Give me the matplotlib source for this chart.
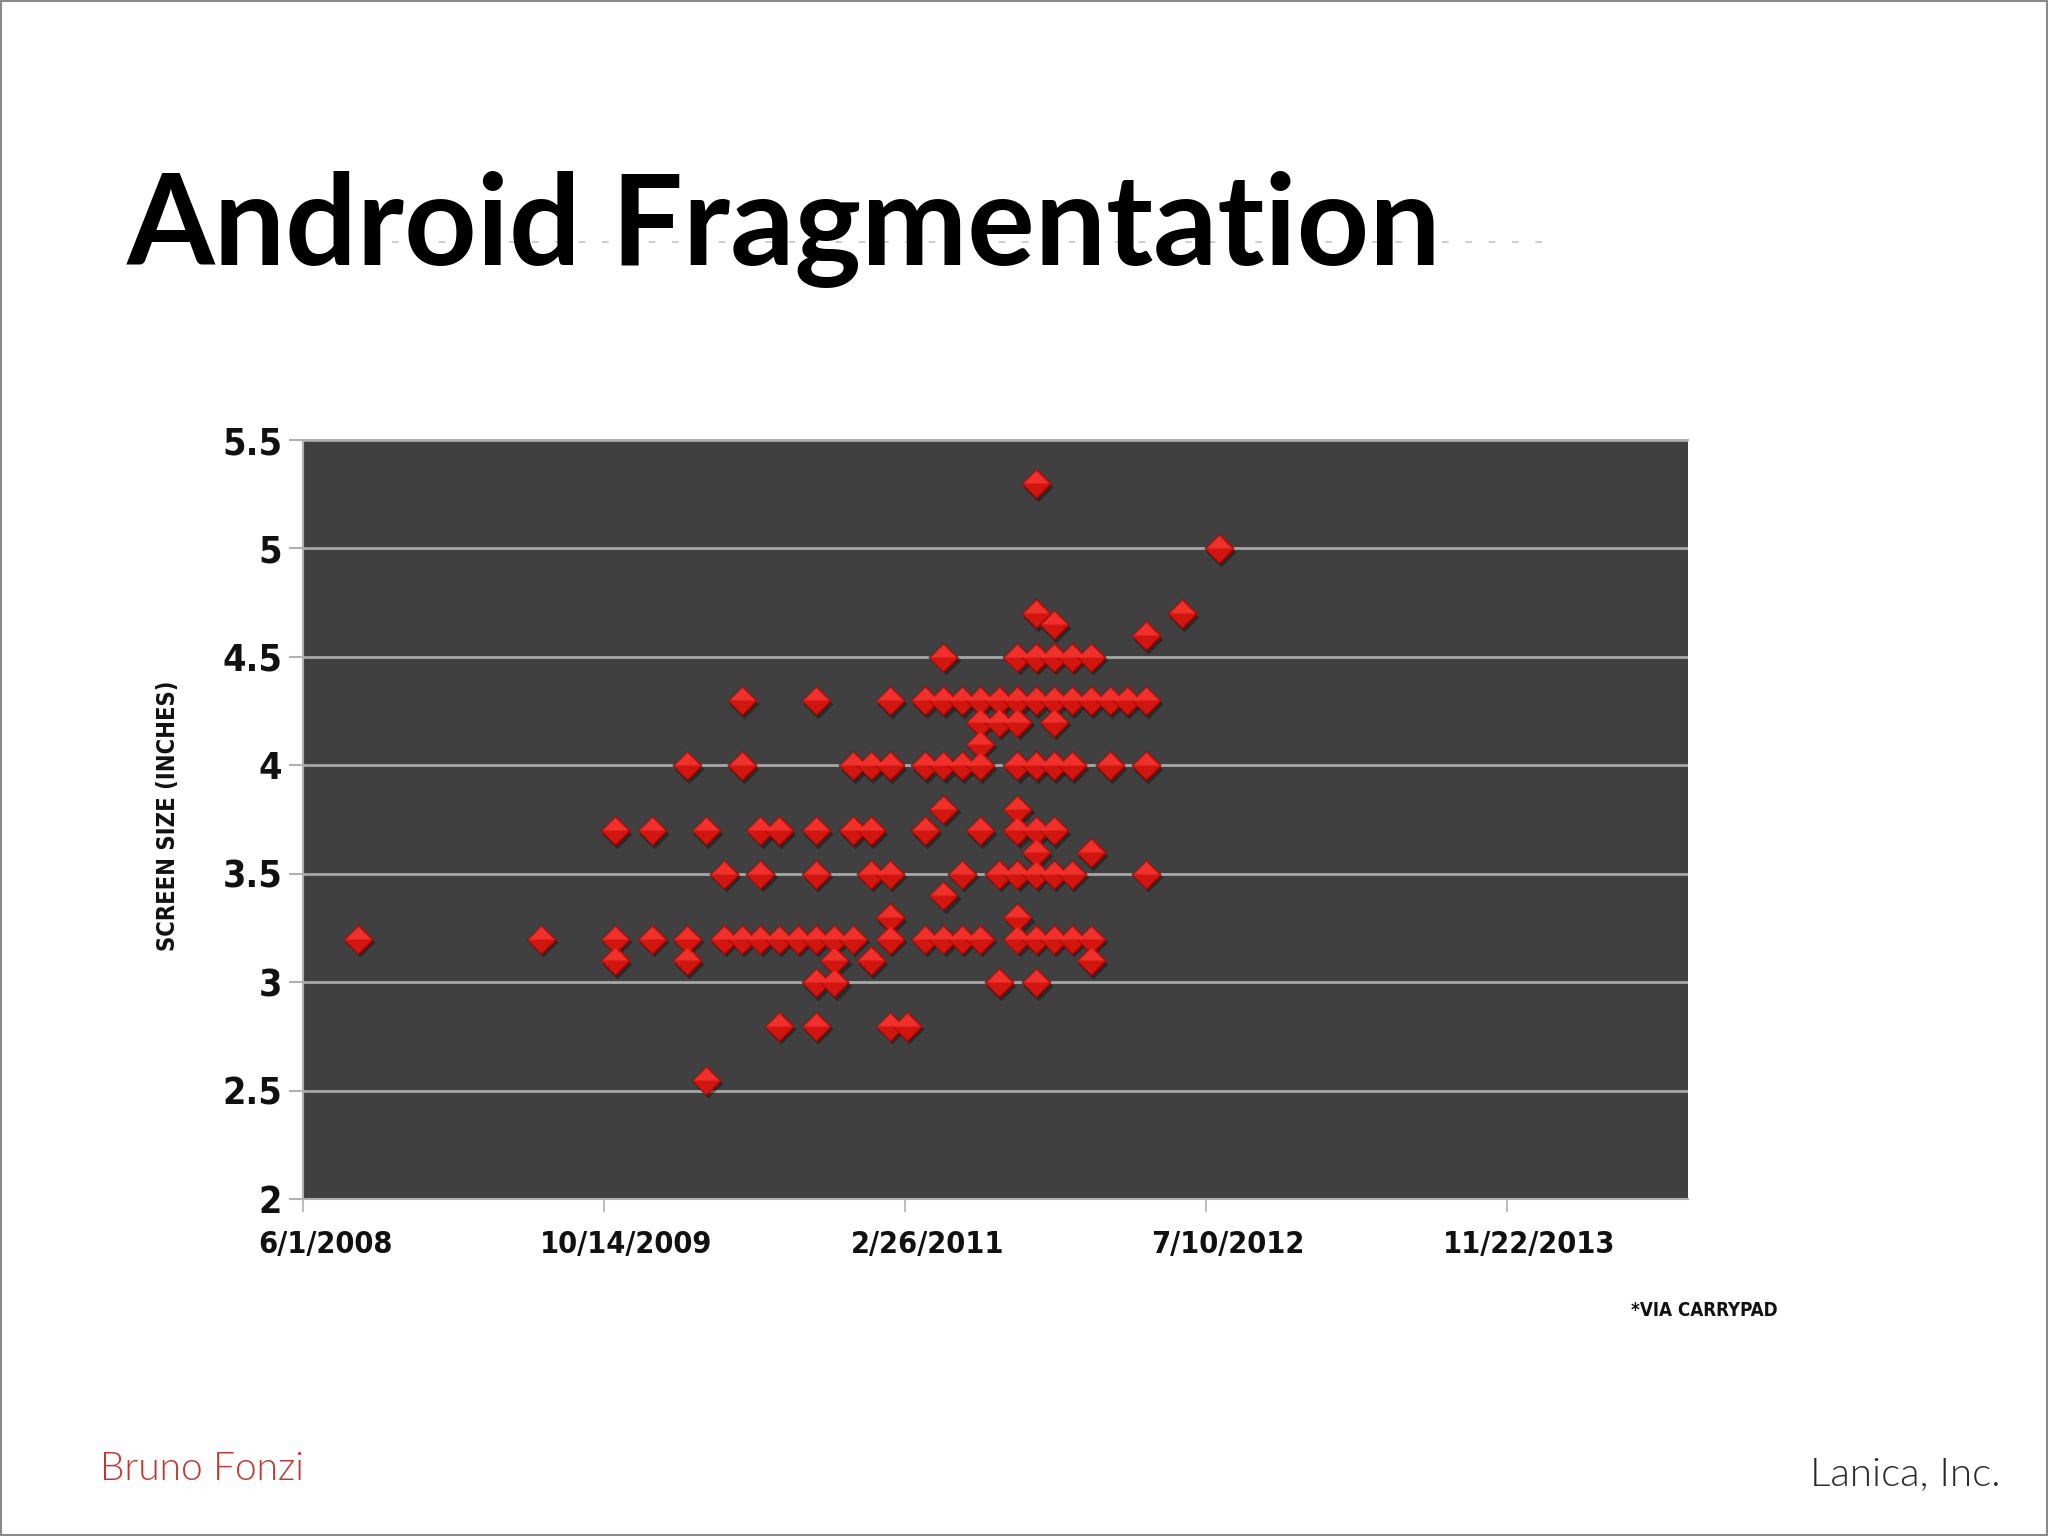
import datetime as dt

import matplotlib
matplotlib.use("Agg")
import matplotlib.pyplot as plt
import matplotlib.dates as mdates
from matplotlib.path import Path
from matplotlib.transforms import offset_copy, ScaledTranslation

# --------------------
# Data (one point per device, release month -> screen size)
# --------------------

rows_size = [2.55, 2.8, 3.0, 3.1, 3.2, 3.3, 3.4, 3.5, 3.6, 3.7, 3.8,
             4.0, 4.1, 4.2, 4.3, 4.5, 4.6, 4.65, 4.7, 5.0, 5.3]

rows_months = [
    ["2010-04"],
    ["2010-08", "2010-10", "2011-02", "2011-03"],
    ["2010-10", "2010-11", "2011-08", "2011-10"],
    ["2009-11", "2010-03", "2010-11", "2011-01", "2012-01"],
    ["2008-09", "2009-07", "2009-11", "2010-01", "2010-03", "2010-05", "2010-06",
     "2010-07", "2010-08", "2010-09", "2010-10", "2010-11", "2010-12", "2011-02",
     "2011-04", "2011-05", "2011-06", "2011-07", "2011-09", "2011-10", "2011-11",
     "2011-12", "2012-01"],
    ["2011-02", "2011-09"],
    ["2011-05"],
    ["2010-05", "2010-07", "2010-10", "2011-01", "2011-02", "2011-06", "2011-08",
     "2011-09", "2011-10", "2011-11", "2011-12", "2012-04"],
    ["2011-10", "2012-01"],
    ["2009-11", "2010-01", "2010-04", "2010-07", "2010-08", "2010-10", "2010-12",
     "2011-01", "2011-04", "2011-07", "2011-09", "2011-10", "2011-11"],
    ["2011-05", "2011-09"],
    ["2010-03", "2010-06", "2010-12", "2011-01", "2011-02", "2011-04", "2011-05",
     "2011-06", "2011-07", "2011-09", "2011-10", "2011-11", "2011-12", "2012-02",
     "2012-04"],
    ["2011-07"],
    ["2011-07", "2011-08", "2011-09", "2011-11"],
    ["2010-06", "2010-10", "2011-02", "2011-04", "2011-05", "2011-06", "2011-07",
     "2011-08", "2011-09", "2011-10", "2011-11", "2011-12", "2012-01", "2012-02",
     "2012-03", "2012-04"],
    ["2011-05", "2011-09", "2011-10", "2011-11", "2011-12", "2012-01"],
    ["2012-04"],
    ["2011-11"],
    ["2011-10", "2012-06"],
    ["2012-08"],
    ["2011-10"],
]

y_ticks = [2, 2.5, 3, 3.5, 4, 4.5, 5, 5.5]
y_tick_labels = ["2", "2.5", "3", "3.5", "4", "4.5", "5", "5.5"]
x_start = dt.date(2008, 6, 1)
x_end = dt.date(2014, 9, 19)
x_tick_step_days = 500
n_x_ticks = 5

# --------------------
# Flatten
# --------------------

dates = []
sizes = []
for size, months in zip(rows_size, rows_months):
    for m in months:
        y, mo = m.split("-")
        dates.append(dt.date(int(y), int(mo), 1))
        sizes.append(size)
xs = mdates.date2num(dates)

# --------------------
# Figure
# --------------------

fig = plt.figure(figsize=(20.48, 15.36), dpi=100)
fig.patch.set_facecolor("white")

# slide border
fig.add_artist(plt.Rectangle((0.0005, 0.0008), 0.999, 0.9985, transform=fig.transFigure,
                             fill=False, edgecolor="#8a8a8a", linewidth=1.5))

# faint dotted artefact behind the title
fig.add_artist(plt.Line2D([392 / 2048, 1548 / 2048], [1 - 242 / 1536] * 2,
                          transform=fig.transFigure, color="#c4c4c4",
                          linestyle=(0, (4, 10)), linewidth=1.2, zorder=0))

fig.text(127 / 2048, 1 - 265 / 1536, "Android Fragmentation", fontsize=91,
         fontweight="bold", family="Lato", color="black", va="baseline", ha="left")

ax = fig.add_axes([303 / 2048, 1 - 1199 / 1536, 1385 / 2048, 759 / 1536])
ax.set_facecolor("#404040")

# diamonds: shadow, body, light upper half
diamond = Path([(-1, 0), (0, 1), (1, 0), (0, -1), (-1, 0)],
               [Path.MOVETO, Path.LINETO, Path.LINETO, Path.LINETO, Path.CLOSEPOLY])
upper = Path([(-1, 0), (0, 1), (1, 0), (0, 0.0), (-1, 0)],
             [Path.MOVETO, Path.LINETO, Path.LINETO, Path.LINETO, Path.CLOSEPOLY])
msize = 21 ** 2

shadow_tr = offset_copy(ax.transData, fig=fig, x=1.5, y=-2.5, units="points")
ax.scatter(xs, sizes, s=msize * 1.05, marker=diamond, color="#151515", alpha=0.5,
           linewidths=0, transform=shadow_tr, zorder=3, clip_on=False)
ax.scatter(xs, sizes, s=msize, marker=diamond, color="#d0160f", edgecolors="#9a0c09",
           linewidths=0.6, zorder=4)
ax.scatter(xs, sizes, s=msize * 0.72, marker=upper, color="#f0302a", linewidths=0,
           zorder=5)

# axes
ax.set_ylim(2, 5.5)
ax.set_xlim(mdates.date2num(x_start), mdates.date2num(x_end))

ax.set_yticks(y_ticks)
ax.set_yticklabels(y_tick_labels)
tick_dates = [x_start + dt.timedelta(days=x_tick_step_days * i) for i in range(n_x_ticks)]
ax.set_xticks(mdates.date2num(tick_dates))
ax.set_xticklabels([f"{d.month}/{d.day}/{d.year}" for d in tick_dates])

ax.yaxis.grid(True, color="#a8a8a8", linewidth=2)
ax.xaxis.grid(False)
ax.set_axisbelow(True)

for side in ["left", "bottom", "top", "right"]:
    ax.spines[side].set_color("#b0b0b0")
    ax.spines[side].set_linewidth(1.5)
ax.spines["right"].set_visible(False)

ax.tick_params(axis="y", length=10, width=1.5, color="#b0b0b0", pad=5,
               labelsize=27, labelcolor="#111111")
ax.tick_params(axis="x", length=9, width=1.2, color="#b0b0b0", pad=13,
               labelsize=22, labelcolor="#111111")
# the x labels sit a little right of their ticks on the slide
shift = ScaledTranslation(16 / 72, 0, fig.dpi_scale_trans)
for lab in ax.get_xticklabels():
    lab.set_transform(lab.get_transform() + shift)
for lab in ax.get_xticklabels() + ax.get_yticklabels():
    lab.set_fontstretch("condensed")
    lab.set_fontweight("bold")

ax.set_ylabel("SCREEN SIZE (INCHES)", fontsize=17, fontweight="bold",
              fontstretch="condensed", color="#111111")
ax.yaxis.set_label_coords(-0.089, 0.505)

fig.text(1778 / 2048, 1 - 1311 / 1536, "*VIA CARRYPAD", fontsize=13.5,
         fontweight="bold", fontstretch="condensed", color="#111111",
         ha="right", va="center")

# footer
fig.text(100 / 2048, 1 - 1480 / 1536, "Bruno Fonzi", fontsize=28, family="Lato",
         fontweight=300, color="#c0392f", ha="left", va="baseline")
fig.text(2001 / 2048, 1 - 1485 / 1536, "Lanica, Inc.", fontsize=29, family="Lato",
         fontweight=300, color="#2a2a2a", ha="right", va="baseline")

fig.savefig("out.png", dpi=100, facecolor="white")
